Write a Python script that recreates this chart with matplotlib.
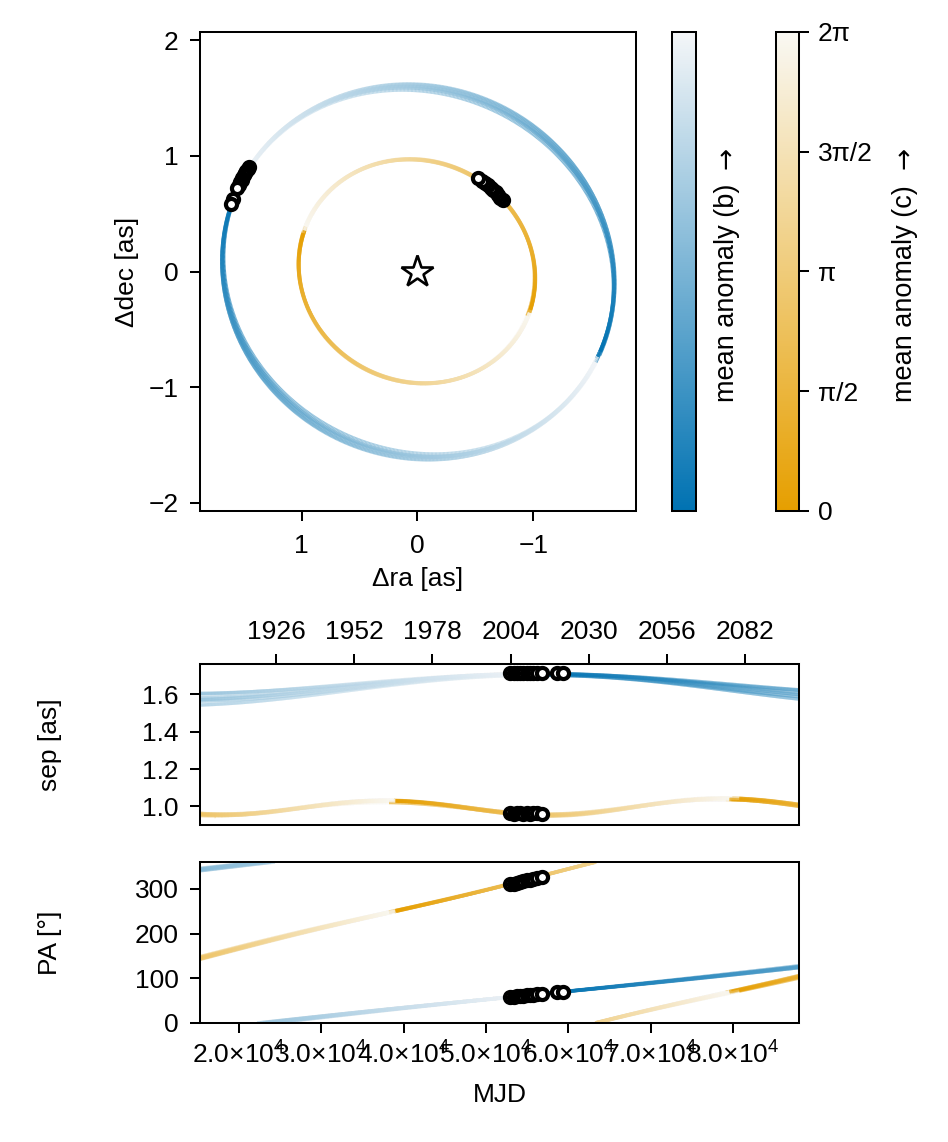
import numpy as np
import matplotlib

matplotlib.use("Agg")

import matplotlib.pyplot as plt
from matplotlib.collections import LineCollection
from matplotlib.colors import LinearSegmentedColormap, Normalize
from matplotlib.cm import ScalarMappable

FS = 19
plt.rcParams["font.family"] = ["Liberation Sans", "DejaVu Sans"]
plt.rcParams["font.size"] = FS
plt.rcParams["mathtext.fontset"] = "custom"
plt.rcParams["mathtext.rm"] = "Liberation Sans"
plt.rcParams["mathtext.default"] = "regular"
plt.rcParams["axes.linewidth"] = 1.45

# ---- astrometry epochs (MJD), separations [as] and position angles [deg]
epoch_b = [52930, 53350, 53750, 54150, 54550, 54950, 55350, 55750, 56150, 56760, 58590, 59320]
sep_b = [1.713, 1.715, 1.714, 1.716, 1.714, 1.715, 1.713, 1.716, 1.714, 1.715, 1.714, 1.713]
pa_b = [58.0, 58.8, 59.5, 60.3, 61.0, 61.8, 62.5, 63.3, 64.0, 65.0, 68.6, 70.0]

epoch_c = [52930, 53350, 53750, 54150, 54550, 54950, 55350, 55750, 56150, 56760]
sep_c = [0.962, 0.961, 0.963, 0.962, 0.960, 0.962, 0.961, 0.963, 0.962, 0.961]
pa_c = [310.0, 311.8, 313.6, 315.4, 317.2, 319.0, 320.8, 322.6, 324.4, 327.0]

# ---- posterior orbit draws: period [d], a [as], e, i, omega, Omega [deg], mean anomaly at T_REF [deg]
T_REF = 55000.0
P_b = [176000, 179000, 182000, 185000, 188000, 181000]
a_b = [1.714, 1.718, 1.716, 1.713, 1.719, 1.716]
e_b = [0.004, 0.008, 0.002, 0.006, 0.005, 0.003]
i_b = [20.5, 24.5, 23.0, 26.0, 21.5, 23.8]
om_b = [0.0, 1.0, -1.0, 2.0, -2.0, 0.0]
Om_b = [64.5, 64.2, 64.8, 64.4, 64.7, 64.5]
M0_b = [-2.9, -3.9, -1.9, -4.9, -0.9, -2.9]

P_c = [80500, 81500, 82000, 82800, 83500, 81000]
a_c = [1.033, 1.037, 1.035, 1.031, 1.038, 1.034]
e_c = [0.004, 0.008, 0.002, 0.010, 0.006, 0.003]
i_c = [22.0, 23.5, 22.6, 21.5, 24.0, 23.0]
om_c = [184.0, 186.0, 185.0, 183.0, 187.0, 185.0]
Om_c = [65.0, 64.6, 65.3, 65.1, 64.8, 65.2]
M0_c = [72.1, 70.1, 71.1, 73.1, 69.1, 71.1]

MJD_MIN, MJD_MAX = 15290, 88010
year_ticks = [1926, 1952, 1978, 2004, 2030, 2056, 2082]
mjd_ticks = [20000, 30000, 40000, 50000, 60000, 70000, 80000]
mjd_labels = ["2.0×10$^{4}$", "3.0×10$^{4}$", "4.0×10$^{4}$", "5.0×10$^{4}$",
              "6.0×10$^{4}$", "7.0×10$^{4}$", "8.0×10$^{4}$"]
cbar_ticks = [0, np.pi / 2, np.pi, 3 * np.pi / 2, 2 * np.pi]
cbar_labels = ["0", "π/2", "π", "3π/2", "2π"]

cmap_b = LinearSegmentedColormap.from_list("anom_b", ["#0072B2", "#F4F6F8"])
cmap_c = LinearSegmentedColormap.from_list("anom_c", ["#E69F00", "#F9F8F3"])

LW = 2.4
ALPHA = 0.72


def solve_kepler(M, e):
    E = M.copy()
    for _ in range(40):
        E = E - (E - e * np.sin(E) - M) / (1 - e * np.cos(E))
    return E


def orbit_from_M(M, a, e, inc, om, Om):
    E = solve_kepler(M, e)
    nu = 2 * np.arctan2(np.sqrt(1 + e) * np.sin(E / 2), np.sqrt(1 - e) * np.cos(E / 2))
    r = a * (1 - e * np.cos(E))
    u = np.radians(om) + nu
    inc, Om = np.radians(inc), np.radians(Om)
    dec = r * (np.cos(u) * np.cos(Om) - np.sin(u) * np.sin(Om) * np.cos(inc))
    ra = r * (np.cos(u) * np.sin(Om) + np.sin(u) * np.cos(Om) * np.cos(inc))
    return ra, dec


def colored_line(ax, x, y, cval, cmap, break_jumps=False):
    pts = np.column_stack([x, y])
    segs = np.stack([pts[:-1], pts[1:]], axis=1)
    c = cval[:-1]
    if break_jumps:
        keep = np.abs(np.diff(y)) < 180
        segs, c = segs[keep], c[keep]
    cols = cmap(c / (2 * np.pi))
    cols[:, 3] = ALPHA
    ax.add_collection(LineCollection(segs, colors=cols, linewidths=LW, zorder=2))


def mjd2year(m):
    return 2000 + (np.asarray(m) - 51544.5) / 365.25


def year2mjd(y):
    return (np.asarray(y) - 2000) * 365.25 + 51544.5


TICK_KW = dict(direction="out", length=7.5, width=1.45, labelsize=FS)

fig = plt.figure(figsize=(9.48, 11.42), dpi=100)
W, H = 948, 1142


def px_axes(x0, x1, y0, y1):
    return fig.add_axes([x0 / W, 1 - y1 / H, (x1 - x0) / W, (y1 - y0) / H])


def style_ticks(ax, xpad=6):
    ax.tick_params(**TICK_KW)
    ax.tick_params(axis="x", pad=xpad)
    ax.tick_params(axis="y", pad=8)


ax_sky = px_axes(200, 636, 32, 511)
cax_b = px_axes(672, 696, 32, 511)
cax_c = px_axes(776, 799, 32, 511)
ax_sep = px_axes(200, 799, 664, 825)
ax_pa = px_axes(200, 799, 862, 1023)

t_grid = np.linspace(MJD_MIN - 500, MJD_MAX + 500, 1400)
M_full = np.linspace(0, 2 * np.pi, 900)

planets = [
    (P_b, a_b, e_b, i_b, om_b, Om_b, M0_b, cmap_b),
    (P_c, a_c, e_c, i_c, om_c, Om_c, M0_c, cmap_c),
]
for P, a, e, inc, om, Om, M0, cmap in planets:
    for k in range(len(P)):
        # full orbit on the sky
        ra, dec = orbit_from_M(M_full, a[k], e[k], inc[k], om[k], Om[k])
        colored_line(ax_sky, ra, dec, np.mod(2 * M_full, 2 * np.pi), cmap)
        # time series
        M_t = np.radians(M0[k]) + 2 * np.pi * (t_grid - T_REF) / P[k]
        ra_t, dec_t = orbit_from_M(M_t, a[k], e[k], inc[k], om[k], Om[k])
        sep_t = np.hypot(ra_t, dec_t)
        pa_t = np.mod(np.degrees(np.arctan2(ra_t, dec_t)), 360)
        cval = np.mod(2 * M_t, 2 * np.pi)
        colored_line(ax_sep, t_grid, sep_t, cval, cmap)
        colored_line(ax_pa, t_grid, pa_t, cval, cmap, break_jumps=True)

marker_kw = dict(linestyle="none", marker="o", markersize=8.0, markerfacecolor="white",
                 markeredgecolor="black", markeredgewidth=3.0, zorder=5)
for ep, sep, pa in [(epoch_b, sep_b, pa_b), (epoch_c, sep_c, pa_c)]:
    sep = np.asarray(sep)
    pa_r = np.radians(pa)
    ax_sky.plot(sep * np.sin(pa_r), sep * np.cos(pa_r), **marker_kw)
    ax_sep.plot(ep, sep, **marker_kw)
    ax_pa.plot(ep, pa, **marker_kw)

ax_sky.plot([0], [0], marker="*", markersize=24, markerfacecolor="white",
            markeredgecolor="black", markeredgewidth=1.9, zorder=6)

# sky panel
ax_sky.set_xlim(1.878, -1.887)
ax_sky.set_ylim(-2.071, 2.072)
ax_sky.set_xticks([1, 0, -1])
ax_sky.set_yticks([-2, -1, 0, 1, 2])
style_ticks(ax_sky, xpad=9)
ax_sky.set_xlabel("Δra [as]", va="center")
ax_sky.xaxis.set_label_coords(0.5, -0.142)
ax_sky.set_ylabel("Δdec [as]", va="center")
ax_sky.yaxis.set_label_coords(-0.167, 0.5)

# colorbars
norm = Normalize(0, 2 * np.pi)
cb_b = fig.colorbar(ScalarMappable(norm=norm, cmap=cmap_b), cax=cax_b)
cb_b.set_ticks([])
cb_c = fig.colorbar(ScalarMappable(norm=norm, cmap=cmap_c), cax=cax_c)
cb_c.set_ticks(cbar_ticks)
cb_c.set_ticklabels(cbar_labels)
for cb in (cb_b, cb_c):
    cb.outline.set_linewidth(1.45)
    cb.ax.tick_params(**TICK_KW)
    cb.ax.tick_params(axis="y", pad=6)
for xc, name in [(727, "mean anomaly (b)"), (905, "mean anomaly (c)")]:
    fig.text(xc / W, 1 - 402 / H, name, rotation=90, ha="center", va="bottom", fontsize=19.5)
    fig.text(xc / W, 1 - 158 / H, "→", rotation=90, ha="center", va="center",
             fontsize=FS, family="DejaVu Sans")

# separation panel
ax_sep.set_xlim(MJD_MIN, MJD_MAX)
ax_sep.set_ylim(0.90, 1.763)
ax_sep.set_yticks([1.0, 1.2, 1.4, 1.6])
ax_sep.set_yticklabels(["1.0", "1.2", "1.4", "1.6"])
style_ticks(ax_sep)
ax_sep.tick_params(axis="x", bottom=False, labelbottom=False)
sec = ax_sep.secondary_xaxis("top", functions=(mjd2year, year2mjd))
sec.set_xticks(year_ticks)
sec.set_xticklabels([str(y) for y in year_ticks])
sec.tick_params(**TICK_KW)
sec.tick_params(pad=7)
ax_sep.set_ylabel("sep [as]", va="center")
ax_sep.yaxis.set_label_coords(-0.25, 0.5)

# position angle panel
ax_pa.set_xlim(MJD_MIN, MJD_MAX)
ax_pa.set_ylim(0, 360)
ax_pa.set_yticks([0, 100, 200, 300])
ax_pa.set_xticks(mjd_ticks)
ax_pa.set_xticklabels(mjd_labels)
style_ticks(ax_pa)
ax_pa.set_xlabel("MJD", va="center")
ax_pa.xaxis.set_label_coords(0.5, -0.45)
ax_pa.set_ylabel("PA [°]", va="center")
ax_pa.yaxis.set_label_coords(-0.25, 0.5)

fig.savefig("out.png", dpi=100, facecolor="white")
